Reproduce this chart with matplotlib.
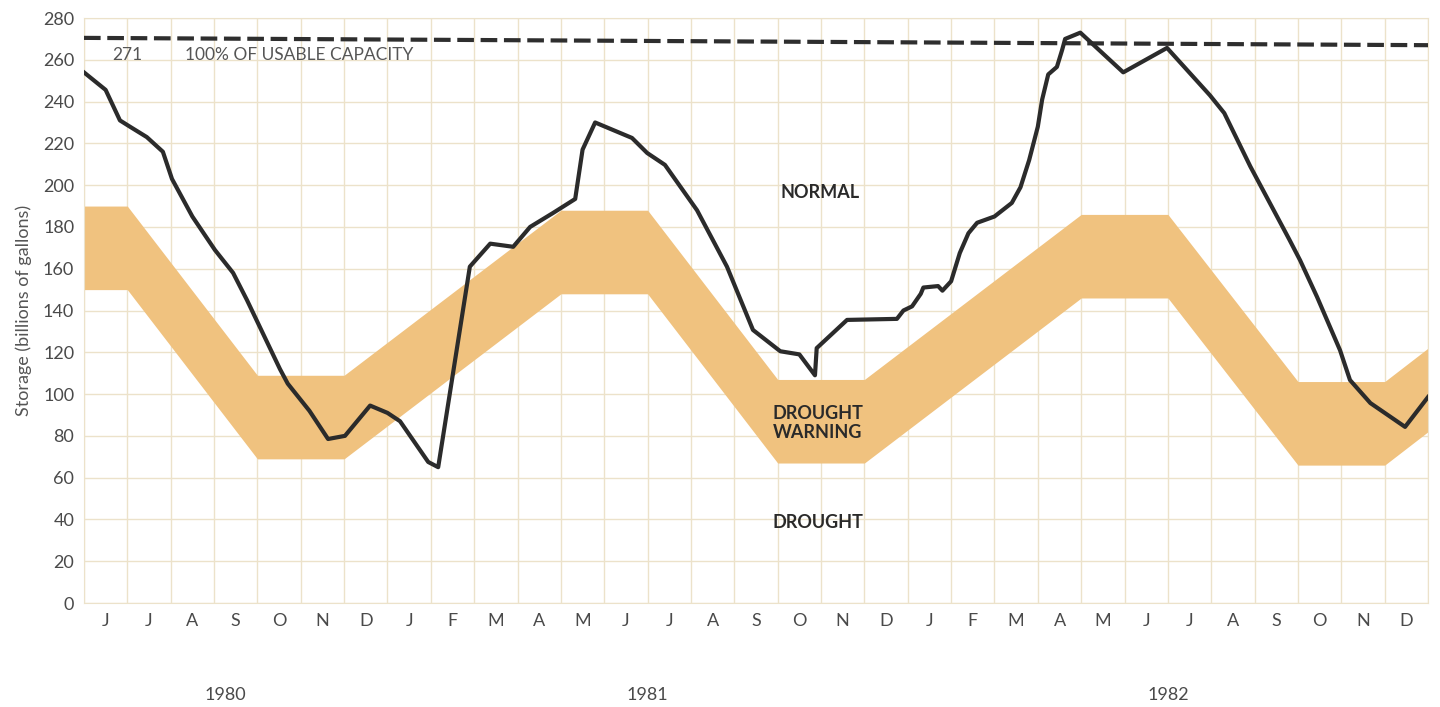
import matplotlib
matplotlib.use('Agg')
import matplotlib.pyplot as plt
import matplotlib.transforms as mtransforms

# month labels, June 1980 .. December 1982 (one slot per month)
months = ['J', 'J', 'A', 'S', 'O', 'N', 'D',
          'J', 'F', 'M', 'A', 'M', 'J', 'J', 'A', 'S', 'O', 'N', 'D',
          'J', 'F', 'M', 'A', 'M', 'J', 'J', 'A', 'S', 'O', 'N', 'D']
years = ['1980', '1981', '1982']
year_pos = [3.25, 13.0, 25.0]

# drought warning band (months from start of June 1980)
band_x = [0, 1, 4, 6, 11, 13, 16, 18, 23, 25, 28, 30, 31]
band_hi = [190, 190, 109, 109, 188, 188, 107, 107, 186, 186, 106, 106, 122]
band_lo = [150, 150, 69, 69, 148, 148, 67, 67, 146, 146, 66, 66, 82]

# usable capacity line
cap_x = [0, 31]
cap_y = [270.5, 267]

# reservoir storage, billions of gallons
store_x = [0.0, 0.5, 0.83, 1.06, 1.45, 1.82, 2.03, 2.5, 3.02, 3.44, 3.76, 4.52,
           4.7, 5.2, 5.63, 6.02, 6.6, 7.0, 7.29, 7.94, 8.17, 8.9, 9.37, 9.9,
           10.29, 10.82, 11.33, 11.5, 11.79, 12.64, 12.99, 13.4, 14.14, 14.83,
           15.43, 16.06, 16.5, 16.68, 16.86, 16.9, 17.6, 18.75, 18.9, 19.1,
           19.3, 19.36, 19.7, 19.8, 20.0, 20.2, 20.4, 20.6, 21.0, 21.4, 21.6,
           21.8, 22.0, 22.1, 22.24, 22.44, 22.56, 22.63, 22.98, 23.97, 24.98,
           25.97, 26.3, 26.9, 27.8, 28.05, 28.44, 28.97, 29.2, 29.67, 30.47, 31.0]
store_y = [254, 245.6, 231, 228, 223, 216, 203, 185, 169, 158, 145, 112,
           105, 92, 78.5, 80, 94.5, 91, 87, 67.5, 65, 161, 172, 170.5,
           180, 186.7, 193.4, 217, 230, 222.6, 215.4, 209.7, 188, 161,
           130.7, 120.5, 119, 114, 109, 122, 135.5, 136, 140, 142,
           148, 151, 151.7, 149.5, 154, 167.5, 177, 182, 185, 191.5, 199,
           212, 228, 241, 253, 256.6, 264.7, 270, 273, 254, 265.7,
           243, 234.5, 209, 174, 164, 146.5, 121, 106.7, 95.7, 84.3, 98.6]

plt.rcParams['font.family'] = ['Lato', 'DejaVu Sans']

fig = plt.figure(figsize=(14.4, 7.07), dpi=100)
ax = fig.add_axes([0.0583, 0.1471, 0.9334, 0.8274])

grid_c = '#ece2ca'
ax.fill_between(band_x, band_lo, band_hi, color='#f0c27f', lw=0, zorder=2)
ax.plot(cap_x, cap_y, color='#2e2e2e', lw=3, ls=(0, (4, 1.6)), zorder=3)
ax.plot(store_x, store_y, color='#2b2b2b', lw=3, zorder=4)

ax.set_xlim(0, 31)
ax.set_ylim(0, 280)
ax.set_xticks(range(32))
ax.set_xticklabels([])
ax.set_xticks([i + 0.5 for i in range(31)], minor=True)
ax.set_xticklabels(months, minor=True)
ax.set_yticks(range(0, 281, 20))
ax.tick_params(axis='both', which='both', length=0)
ax.tick_params(axis='y', labelsize=13, labelcolor='#4a4a4a', pad=7)
ax.tick_params(axis='x', which='minor', labelsize=13, labelcolor='#4a4a4a', pad=7)
ax.grid(True, which='major', color=grid_c, lw=1)
ax.set_axisbelow(True)
for s in ax.spines.values():
    s.set_color(grid_c)

ax.set_ylabel('Storage (billions of gallons)', fontsize=13, color='#555555', labelpad=8)

trans = mtransforms.blended_transform_factory(ax.transData, ax.transAxes)
for yr, xp in zip(years, year_pos):
    ax.text(xp, -0.157, yr, transform=trans, ha='center', va='center',
            fontsize=13, color='#4a4a4a')

ax.text(0.99, 262.3, '271', ha='center', va='center', fontsize=12.5, color='#555555')
ax.text(2.33, 262.3, '100% OF USABLE CAPACITY', ha='left', va='center',
        fontsize=12.5, color='#555555')
ax.text(16.98, 196.7, 'NORMAL', ha='center', va='center', fontsize=13,
        fontweight='bold', color='#2a2a2a')
ax.text(16.93, 86, 'DROUGHT\nWARNING', ha='center', va='center', fontsize=13,
        fontweight='bold', color='#2a2a2a', linespacing=1.15)
ax.text(16.93, 38.3, 'DROUGHT', ha='center', va='center', fontsize=13,
        fontweight='bold', color='#2a2a2a')

fig.savefig('out.png', dpi=100, facecolor='white')
